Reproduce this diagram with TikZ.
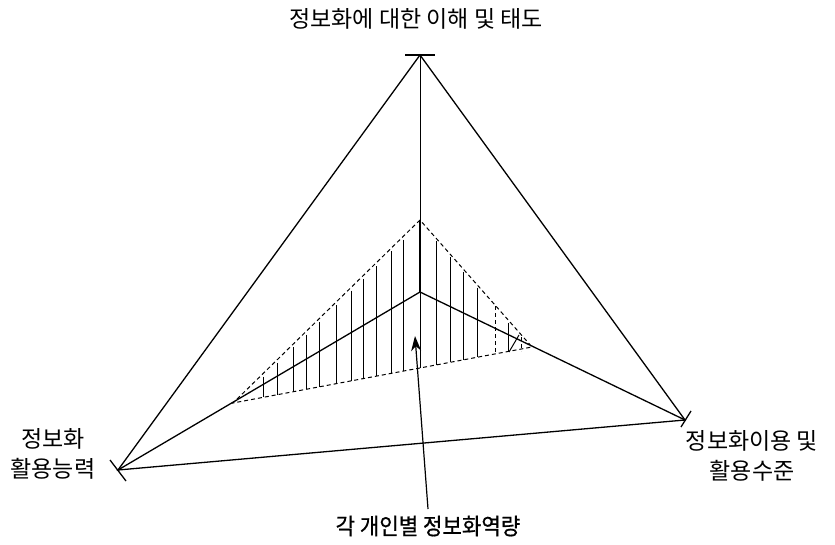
\documentclass[tikz,border=0pt]{standalone}
\usepackage{fontspec}
\newfontfamily\kr{Noto Sans CJK KR}
\newfontfamily\krb[FakeBold=0.7]{Noto Sans CJK KR}
\usetikzlibrary{arrows.meta}
\begin{document}
\begin{tikzpicture}[x=1pt,y=-1pt,
  edge/.style={line width=1.3pt, line cap=round},
  dashline/.style={line width=1pt, dash pattern=on 4pt off 3pt},
  hatch/.style={line width=1pt},
  lbl/.style={font=\kr\fontsize{23}{28}\selectfont, inner sep=0pt, align=center},
  tickmark/.style={line width=1.3pt}]
\useasboundingbox (0,0) rectangle (835,545);
% outer vertices and centre
\coordinate (T) at (420,55);
\coordinate (L) at (118,470);
\coordinate (R) at (685,420);
\coordinate (C) at (420,292);
% inner (dashed) triangle
\coordinate (iT) at (420,220);
\coordinate (iL) at (233,403);
\coordinate (iR) at (532,347);
% outer triangle
\draw[edge] (T) -- (L) -- (R) -- cycle;
% ticks
\draw[tickmark] ([xshift=-15pt]T) -- ([xshift=15pt]T);
\draw[tickmark] ([shift={(-8,-10)}]L) -- ([shift={(8,11)}]L);
\draw[tickmark] ([shift={(6,-9)}]R) -- ([shift={(-4,7)}]R);
% dashed inner triangle
\draw[dashline] (iT) -- (iL) -- (iR) -- cycle;
% hatching
\foreach \x in {263,277,293,306,319,336,351,363,376,391,403}{
  \draw[hatch] (\x,{403-0.9786*(\x-233)+3}) -- (\x,{403-0.1873*(\x-233)});
}
\foreach \x in {436,450,463,477,508}{
  \draw[hatch] (\x,{220+1.134*(\x-420)+3}) -- (\x,{403-0.1873*(\x-233)});
}
\draw[hatch] (420,292) -- (420,368);
% centre lines
\draw[line width=1pt] (C) -- (T);
\draw[line width=2.6pt] (iT) -- (C);
\draw[dashline] (495,306) -- (495,354);
\draw[dashline] (521,337) -- (521,351);
\draw[hatch] (509,352) -- (519,335);
\draw[edge] (C) -- (L);
\draw[edge] (C) -- (R);
% labels
\node[lbl] (top) at (416,19) {정보화에 대한 이해 및 태도};
\node[lbl] (left) at (53,454) {정보화\\[2pt]활용능력};
\node[lbl] (right) at (752,456) {정보화이용 및\\[2pt]활용수준};
\node[lbl, font=\krb\fontsize{23}{27}\selectfont, xscale=0.92] (bottom) at (428,526) {각 개인별 정보화역량};
% arrow
\coordinate (atail) at (428,509);
\coordinate (ahead) at (415,336);
\draw[line width=1.2pt, -{Stealth[length=15pt,width=10pt]}] (atail) -- (ahead);
\end{tikzpicture}
\end{document}
